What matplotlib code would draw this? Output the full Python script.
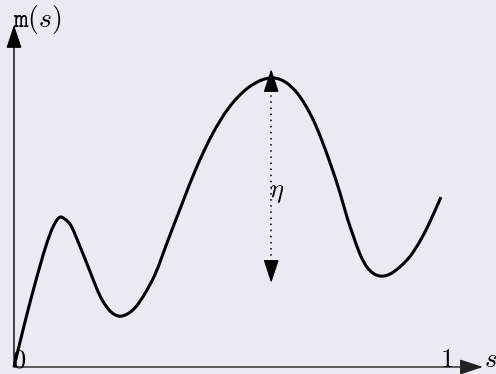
import numpy as np
import matplotlib.pyplot as plt
from matplotlib.path import Path
from matplotlib.patches import PathPatch

plt.rcParams['mathtext.fontset'] = 'cm'

# curve m(s)
s_vals = [0.000, 0.014, 0.030, 0.044, 0.060, 0.076, 0.090, 0.106, 0.118, 0.129,
          0.152, 0.176, 0.199, 0.222, 0.243, 0.261, 0.279, 0.303, 0.326, 0.356,
          0.388, 0.418, 0.457, 0.494, 0.540, 0.573, 0.596, 0.626, 0.654, 0.691,
          0.730, 0.753, 0.771, 0.783, 0.799, 0.815, 0.829, 0.850, 0.868, 0.891,
          0.915, 0.938, 0.956, 0.986]
m_vals = [0.000, 0.074, 0.156, 0.224, 0.298, 0.366, 0.413, 0.442, 0.436, 0.422,
          0.357, 0.280, 0.209, 0.165, 0.150, 0.156, 0.174, 0.218, 0.274, 0.375,
          0.481, 0.578, 0.684, 0.761, 0.823, 0.847, 0.853, 0.841, 0.808, 0.729,
          0.602, 0.513, 0.434, 0.389, 0.333, 0.295, 0.277, 0.268, 0.274, 0.295,
          0.327, 0.372, 0.416, 0.501]

# the eta gap arrow
eta_s = 0.594
eta_top = 0.879
eta_bottom = 0.248

bg = '#EAEAF2'
fig = plt.figure(figsize=(4.96, 3.74), dpi=100, facecolor=bg)
ax = fig.add_axes([0, 0, 1, 1])
ax.set_facecolor(bg)
ax.set_xlim(-14 / 433, 482 / 433)
ax.set_ylim(-7 / 339, 367 / 339)
ax.axis('off')

head = dict(arrowstyle='-|>,head_length=1.15,head_width=0.38', mutation_scale=12.5,
            color='black', lw=1.0, shrinkA=0, shrinkB=0)
ax.annotate('', xy=(0, 1.009), xytext=(0, 0), arrowprops=head)
ax.annotate('', xy=(1.083, 0), xytext=(0, 0),
            arrowprops=dict(head, color='#222222'))

# cubic hermite pieces through the read points, drawn as bezier path
s = np.array(s_vals)
m = np.array(m_vals)
d = np.gradient(m, s)
verts = [(s[0], m[0])]
codes = [Path.MOVETO]
for i in range(len(s) - 1):
    h = s[i + 1] - s[i]
    verts += [(s[i] + h / 3, m[i] + d[i] * h / 3),
              (s[i + 1] - h / 3, m[i + 1] - d[i + 1] * h / 3),
              (s[i + 1], m[i + 1])]
    codes += [Path.CURVE4] * 3
ax.add_patch(PathPatch(Path(verts, codes), facecolor='none', edgecolor='black',
                       lw=2.2, capstyle='butt', joinstyle='round'))

# dotted double arrow
ax.plot([eta_s, eta_s], [eta_top - 0.04, eta_bottom + 0.04], color='black',
        lw=1.1, ls=(0, (1, 3)))
ax.annotate('', xy=(eta_s, eta_top), xytext=(eta_s, eta_top - 0.05), arrowprops=head)
ax.annotate('', xy=(eta_s, eta_bottom), xytext=(eta_s, eta_bottom + 0.05), arrowprops=head)
ax.text(0.589, 0.501, r'$\eta$', fontsize=19, ha='left', va='baseline')

ax.text(-0.004, 0.0, '$0$', fontsize=19, ha='left', va='baseline')
ax.text(1.0, 0.0, '$1$', fontsize=19, ha='center', va='baseline')
ax.text(1.085, 0.0, '$s$', fontsize=19, ha='left', va='baseline')
ax.text(-0.003, 1.003, r'$\mathtt{m}(s)$', fontsize=20, ha='left', va='baseline')

fig.savefig('out.png', dpi=100, facecolor=bg)
